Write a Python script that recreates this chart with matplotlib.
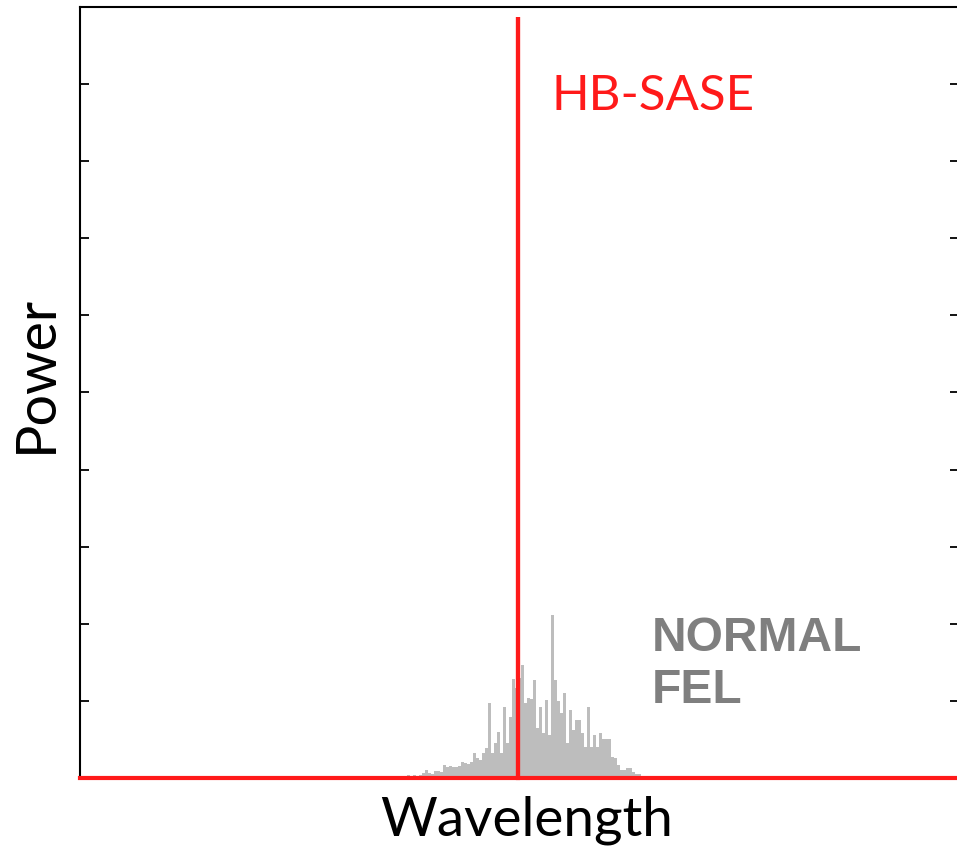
import matplotlib
matplotlib.use("Agg")
import matplotlib.pyplot as plt
import numpy as np

# ---- data (arbitrary wavelength units, power in arbitrary units) ----
fel_start = 300.0          # first bin left edge (wavelength units)
fel_bin = 3.0              # bin width
fel_power = [
    0.01, 0.01, 0.01, 0.01, 0.01, 0.03, 0.01, 0.03, 0.03, 0.04,
    0.03, 0.04, 0.03, 0.04, 0.06, 0.10, 0.06, 0.05, 0.09, 0.09,
    0.08, 0.17, 0.14, 0.16, 0.14, 0.14, 0.16, 0.21, 0.19, 0.18,
    0.21, 0.32, 0.26, 0.23, 0.32, 0.39, 0.97, 0.32, 0.45, 0.60,
    0.32, 0.92, 0.45, 0.79, 1.28, 1.17, 1.30, 1.47, 0.97, 1.04,
    1.02, 1.27, 0.65, 0.92, 0.58, 1.01, 0.56, 2.11, 1.27, 1.00,
    0.84, 1.10, 0.45, 0.88, 0.62, 0.75, 0.75, 0.58, 0.40, 0.92,
    0.40, 0.56, 0.40, 0.58, 0.51, 0.51, 0.51, 0.27, 0.26, 0.17,
    0.10, 0.10, 0.13, 0.13, 0.08, 0.05, 0.05, 0.03, 0.03, 0.03,
    0.01, 0.01, 0.01, 0.01, 0.01, 0.01, 0.01, 0.01, 0.01, 0.01,
    0.01, 0.01, 0.01, 0.01,
]
hb_x = [0.0, 438.0, 438.0, 438.0, 880.0]
hb_y = [0.0, 0.0, 9.87, 0.0, 0.0]
y_ticks = [1, 2, 3, 4, 5, 6, 7, 8, 9]

W, H = 957, 848
fig = plt.figure(figsize=(W / 100, H / 100), dpi=100)
ax = fig.add_axes([80 / W, (H - 778) / H, (959 - 80) / W, (778 - 7) / H])

fel_x = fel_start + fel_bin * np.arange(len(fel_power))
ax.bar(fel_x, fel_power, width=fel_bin, align="edge", color="#bdbdbd",
       linewidth=0, zorder=2)
ax.plot(hb_x, hb_y, color="#ff1a1a", lw=3.0, solid_joinstyle="miter",
        zorder=3, clip_on=False)

ax.set_xlim(0, 879)
ax.set_ylim(0, 10)
ax.set_xticks([])
ax.set_yticks(y_ticks)
ax.tick_params(axis="y", direction="in", length=6.5, width=1.3,
               left=True, right=True, labelleft=False, labelright=False)
for s in ax.spines.values():
    s.set_linewidth(1.5)
    s.set_color("black")

ax.text(472, 8.84, "HB-SASE", color="#ff1a1a", fontsize=35.5, family="Lato",
        ha="left", va="center")
ax.text(572, 1.47, "NORMAL\nFEL", color="#7f7f7f", fontsize=34.5,
        family="Liberation Sans", fontweight="bold", ha="left", va="center",
        linespacing=1.19)

fig.text(527 / W, 1 - 820 / H, "Wavelength", fontsize=39.5, family="Lato",
         ha="center", va="center")
fig.text(36 / W, 1 - 374 / H, "Power", fontsize=40, family="Lato",
         ha="center", va="center", rotation=90)

fig.savefig("out.png", dpi=100)
